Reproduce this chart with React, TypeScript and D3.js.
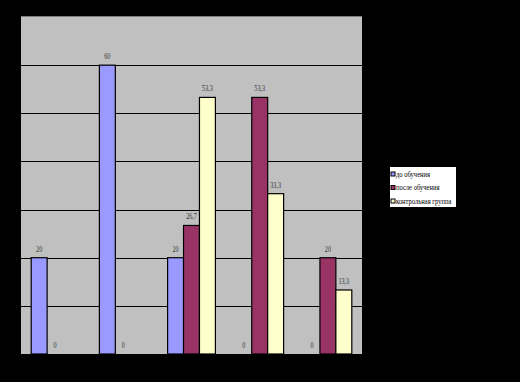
import React from 'react';
import * as d3 from 'd3';

const categories = ['1', '2', '3', '4', '5'];
const seriesNames = ['до обучения', 'после обучения', 'контрольная группа'];
const before: (number | null)[] = [20, 60, 20, 0, 0];
const after: (number | null)[] = [0, 0, 26.7, 53.3, 20];
const control: (number | null)[] = [null, null, 53.3, 33.3, 13.3];
const seriesColors = ['#9999FF', '#993366', '#FFFFCC'];
const gridTicks = [10, 20, 30, 40, 50, 60];

const W = 520, H = 382;
const plot = { left: 21, right: 362, top: 17, bottom: 354 };

export default function App() {
  const seriesValues = [before, after, control];
  const x0 = d3.scaleBand<string>().domain(categories).range([plot.left, plot.right]).padding(0);
  const x1 = d3.scaleBand<string>().domain(seriesNames).range([0, x0.bandwidth()]).paddingInner(0).paddingOuter(0.64);
  const y = d3.scaleLinear().domain([0, 70]).range([plot.bottom, plot.top]);
  const fmt = (v: number) => String(Math.round(v * 10) / 10).replace('.', ',');

  return (
    <svg width={W} height={H} style={{ position: 'absolute', left: 0, top: 0, display: 'block' }}>
      <rect x={0} y={0} width={W} height={H} fill="#000" />
      <rect x={plot.left} y={plot.top - 1} width={plot.right - plot.left} height={plot.bottom - plot.top + 1} fill="#C0C0C0" />
      <line x1={plot.left} x2={plot.right} y1={plot.top - 0.5} y2={plot.top - 0.5} stroke="#808080" />
      {gridTicks.map(t => (
        <line key={t} x1={plot.left} x2={plot.right} y1={Math.round(y(t)) + 0.5} y2={Math.round(y(t)) + 0.5} stroke="#000" strokeWidth={1.2} />
      ))}
      {categories.map((c, ci) => (
        <g key={c}>
          {seriesNames.map((s, si) => {
            const v = seriesValues[si][ci];
            if (v === null) return null;
            const bx = (x0(c) as number) + (x1(s) as number);
            const bw = x1.bandwidth();
            const top = y(v);
            const cx = bx + bw / 2;
            return (
              <g key={s}>
                {v > 0 && (
                  <rect x={bx} y={top} width={bw} height={y(0) - top} fill={seriesColors[si]} stroke="#000" strokeWidth={1.2} />
                )}
                <text
                  transform={`translate(${cx},${top - 6}) scale(0.72,1)`}
                  textAnchor="middle"
                  fontFamily="'Liberation Serif', serif"
                  fontSize={8.5}
                  fill="#333"
                >
                  {fmt(v)}
                </text>
              </g>
            );
          })}
        </g>
      ))}
      <line x1={plot.left} x2={plot.right} y1={plot.bottom + 0.5} y2={plot.bottom + 0.5} stroke="#000" />
      <g>
        <rect x={389.5} y={166.5} width={67} height={41} fill="#fff" stroke="#000" />
        {seriesNames.map((s, i) => (
          <g key={s} transform={`translate(391,${174 + i * 13.5})`}>
            <rect x={0} y={-2} width={4} height={4} fill={seriesColors[i]} stroke="#000" strokeWidth={1} />
            <text
              transform="translate(5,2.5) scale(0.82,1)"
              fontFamily="'Liberation Serif', serif"
              fontSize={8}
              fill="#000"
            >
              {s}
            </text>
          </g>
        ))}
      </g>
    </svg>
  );
}
